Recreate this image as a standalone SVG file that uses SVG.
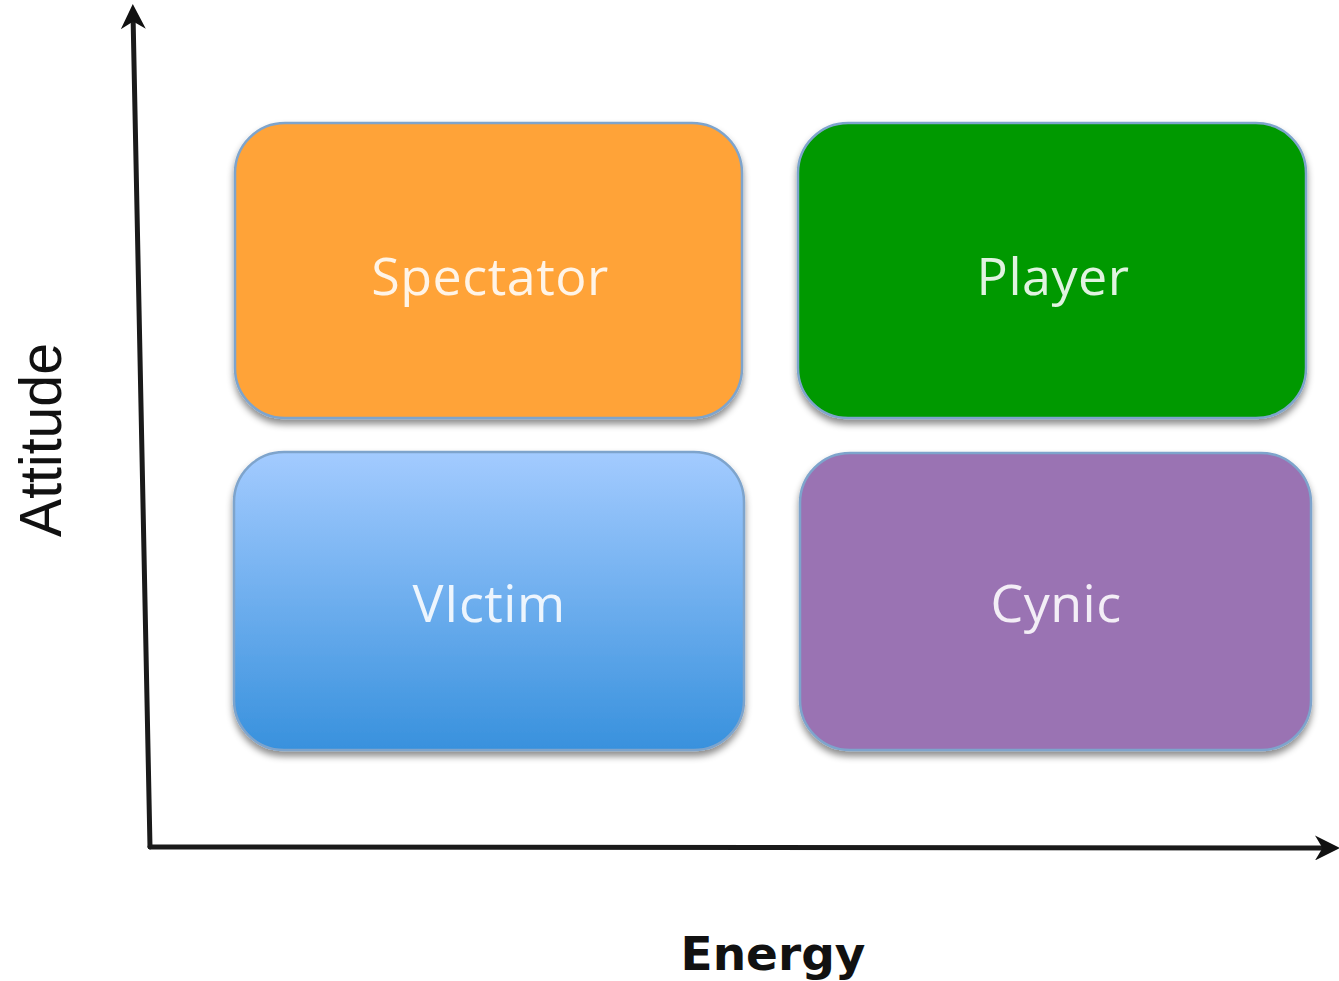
<svg xmlns="http://www.w3.org/2000/svg" width="1339" height="981" viewBox="0 0 1339 981">
<style>
.box{stroke:#7ea4cc;stroke-width:2.5}
.lbl{font-family:"Open Sans","Noto Sans",sans-serif;font-size:52px;fill:#ffffff;fill-opacity:0.88;text-anchor:middle;letter-spacing:0.5px}
.axis{stroke:#1a1a1a;stroke-width:5;fill:none;stroke-linecap:round}
.axlbl{fill:#111;text-anchor:middle}
</style>
<defs>
<linearGradient id="gBlue" x1="0" y1="0" x2="0" y2="1">
<stop offset="0" stop-color="#a3cbff"/>
<stop offset="1" stop-color="#3891dd"/>
</linearGradient>
<filter id="sh" x="-5%" y="-5%" width="110%" height="115%">
<feDropShadow dx="0" dy="5" stdDeviation="3.5" flood-color="#000" flood-opacity="0.45"/>
</filter>
<marker id="arr" viewBox="0 0 10 10" refX="6" refY="5" markerWidth="5" markerHeight="5" orient="auto" markerUnits="strokeWidth">
<path d="M0,0 L10,5 L0,10 L3,5 Z" fill="#111"/>
</marker>
</defs>
<rect width="1339" height="981" fill="#ffffff"/>
<g id="connectors">
<path class="axis" d="M150,847 L133,14" marker-end="url(#arr)"/>
<path class="axis" d="M150,847 L1330,848" marker-end="url(#arr)"/>
</g>
<g id="spectator">
<rect class="box" x="235" y="123" width="507" height="295" rx="50" fill="#ffa338" filter="url(#sh)"/>
<text class="lbl" x="490" y="295">Spectator</text>
</g>
<g id="player">
<rect class="box" x="798" y="123" width="508" height="295" rx="50" fill="#009900" filter="url(#sh)"/>
<text class="lbl" x="1053" y="295">Player</text>
</g>
<g id="victim">
<rect class="box" x="234" y="452" width="510" height="298" rx="50" fill="url(#gBlue)" filter="url(#sh)"/>
<text class="lbl" x="489" y="622">VIctim</text>
</g>
<g id="cynic">
<rect class="box" x="800" y="453" width="511" height="297" rx="50" fill="#9a73b3" filter="url(#sh)"/>
<text class="lbl" x="1056" y="622">Cynic</text>
</g>
<g id="energy-label">
<text class="axlbl" x="773" y="970" font-family="DejaVu Sans, sans-serif" font-weight="bold" font-size="47">Energy</text>
</g>
<g id="attitude-label">
<text class="axlbl" x="0" y="0" font-family="Liberation Sans, Arial, sans-serif" font-size="60" textLength="194" lengthAdjust="spacingAndGlyphs" transform="translate(61,440) rotate(-90)">Attitude</text>
</g>
</svg>
